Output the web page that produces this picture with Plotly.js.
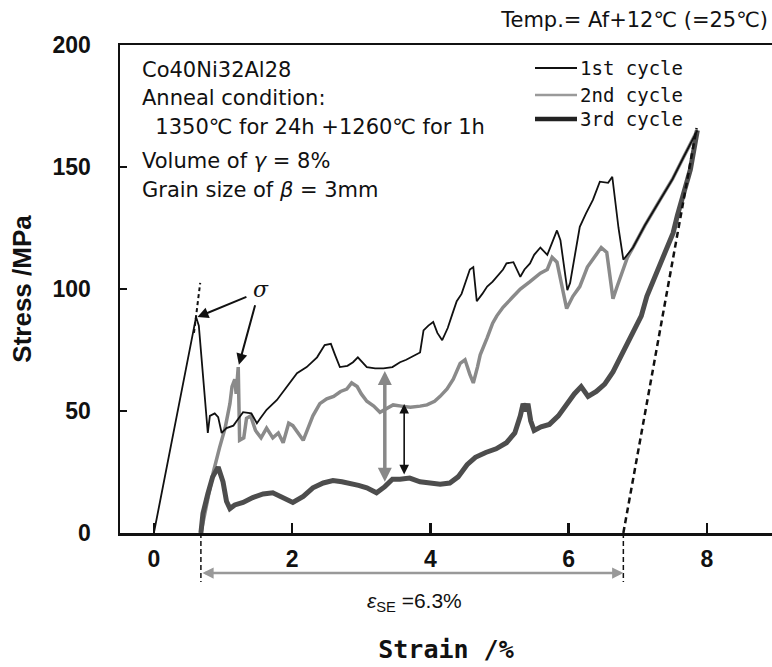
<!DOCTYPE html>
<html>
<head>
<meta charset="utf-8">
<script src="https://cdn.plot.ly/plotly-3.0.1.min.js"></script>
<style>html,body{margin:0;padding:0;background:#fff;}#chart{width:772px;height:667px;}</style>
</head>
<body>
<div id="chart"></div>
<script>
// ---- data (strain in %, stress in MPa) ----
const seriesNames = ["1st cycle", "2nd cycle", "3rd cycle"];

const strain1 = [0, 0.61, 0.65, 0.72, 0.78, 0.81, 0.88, 0.93, 0.98, 1.05, 1.15, 1.2, 1.29, 1.41, 1.49, 1.54, 1.63, 1.78, 1.92, 2.07, 2.21, 2.36, 2.47, 2.56, 2.62, 2.69, 2.8, 2.88, 2.95, 3.0, 3.08, 3.2, 3.32, 3.45, 3.56, 3.65, 3.75, 3.85, 3.9, 3.97, 4.04, 4.1, 4.17, 4.25, 4.32, 4.38, 4.45, 4.52, 4.57, 4.62, 4.65, 4.67, 4.75, 4.82, 4.9, 4.96, 5.05, 5.1, 5.2, 5.3, 5.36, 5.44, 5.5, 5.59, 5.69, 5.76, 5.83, 5.88, 5.93, 5.98, 6.02, 6.08, 6.16, 6.25, 6.35, 6.45, 6.57, 6.63, 6.67, 6.72, 6.79, 6.85, 6.93, 7.1, 7.32, 7.5, 7.66, 7.86];
const stress1 = [0, 88.5, 85, 60, 41, 48, 49, 47.5, 41, 43, 44, 46, 49.5, 49, 45, 47, 50.5, 54.5, 60, 65.5, 68, 72, 77, 77.5, 73, 68, 68.5, 70, 72, 70.5, 68, 67.5, 67.5, 68, 70, 71, 72.5, 74, 83, 85, 86.5, 82, 79, 84, 90, 95, 98, 104, 108, 109, 100, 95, 98, 101, 103, 105, 108, 110.5, 111, 105, 108, 110.5, 114, 117, 114, 119, 124, 120, 110, 99.5, 102.5, 112, 125.5, 131, 136.5, 144, 143.5, 146, 136.5, 125, 112, 114, 117, 126, 136.5, 145, 154, 165];

const strain2 = [0.68, 0.77, 0.86, 0.95, 1.03, 1.1, 1.13, 1.17, 1.19, 1.22, 1.24, 1.3, 1.34, 1.4, 1.47, 1.55, 1.63, 1.72, 1.8, 1.87, 1.95, 2.01, 2.08, 2.16, 2.23, 2.3, 2.4, 2.5, 2.6, 2.7, 2.79, 2.86, 2.94, 3.0, 3.08, 3.18, 3.27, 3.37, 3.46, 3.58, 3.71, 3.85, 3.95, 4.06, 4.14, 4.24, 4.33, 4.43, 4.5, 4.57, 4.62, 4.68, 4.72, 4.82, 4.9, 4.96, 5.05, 5.2, 5.3, 5.44, 5.59, 5.69, 5.76, 5.83, 5.9, 5.97, 6.06, 6.16, 6.27, 6.37, 6.47, 6.55, 6.6, 6.64, 6.7, 6.76, 6.85, 6.93, 7.1, 7.32, 7.5, 7.66, 7.86];
const stress2 = [0, 12, 25, 35, 43, 53, 60, 63, 57, 68, 38, 39, 47, 48, 42, 39, 43, 39, 41, 37, 45, 44, 41, 38, 43, 48, 53, 55, 56, 58, 59, 61.5, 60, 57, 54, 52, 49.5, 51, 52.5, 52, 51.5, 52, 52.5, 54, 56, 59, 63, 69.5, 71, 65, 61.5, 68, 73, 80, 86, 89, 92.5, 97, 100, 103, 106.5, 108, 113, 111, 102, 92, 97, 101, 109, 113, 117, 115, 104, 96, 101, 106, 113, 117, 126, 136.5, 145, 154, 165];

const strain3 = [0.68, 0.71, 0.78, 0.85, 0.93, 1.0, 1.05, 1.1, 1.17, 1.29, 1.43, 1.58, 1.72, 1.87, 2.01, 2.16, 2.3, 2.45, 2.59, 2.72, 2.84, 2.96, 3.08, 3.22, 3.34, 3.45, 3.56, 3.7, 3.85, 4.0, 4.14, 4.28, 4.4, 4.53, 4.65, 4.8, 4.95, 5.1, 5.22, 5.3, 5.34, 5.38, 5.41, 5.45, 5.5, 5.6, 5.72, 5.85, 5.95, 6.08, 6.18, 6.28, 6.4, 6.52, 6.64, 6.75, 6.85, 6.95, 7.05, 7.13, 7.22, 7.32, 7.42, 7.51, 7.57, 7.66, 7.76, 7.86];
const stress3 = [0, 8, 16, 23, 27, 21, 13, 10, 11.5, 12.5, 14.5, 16, 16.5, 14.5, 12.5, 15, 18.5, 20.5, 21.5, 21, 20.5, 19.5, 18.5, 16.5, 19, 22, 22, 22.5, 21, 20.5, 20, 20.5, 23, 28, 31, 33, 34.5, 37, 41, 48, 53, 50, 53, 46, 42, 43.5, 44.5, 48, 52, 57, 60, 56, 58, 61, 66, 72, 78, 84, 89, 97, 103, 110, 116, 123, 130, 139, 149, 165];

// construction lines (dashed)
const elasticStrain = [0.58, 0.67];
const elasticStress = [82, 102.5];
const unloadStrain = [6.79, 7.85];
const unloadStress = [0, 166];

// superelastic strain limits and value
const seLimits = [0.68, 6.79];
const seLabel = "<i>ε</i><sub>SE</sub> =6.3%";

// stress-difference arrows: [strain, top stress, bottom stress]
const gapGray = [3.34, 67, 21];
const gapBlack = [3.62, 53.5, 24];

// sigma pointer arrows: [tail strain, tail stress, head strain, head stress]
const sigmaArrow1 = [1.36, 97, 0.63, 88.5];
const sigmaArrow2 = [1.47, 94, 1.23, 69];

const xTicks = [0, 2, 4, 6, 8];
const yTicks = [0, 50, 100, 150, 200];

const titleText = "Temp.= Af+12℃ (=25℃)";
const infoLines = ["Co40Ni32Al28", "Anneal condition:", "\u00a0\u00a01350℃ for 24h +1260℃ for 1h", "Volume of <i>γ</i> = 8%", "Grain size of <i>β</i> = 3mm"];

// ---- traces ----
const c1 = "#111", c2 = "#8a8a8a", c3 = "#4d4d4d";
const traces = [
  {x: strain2, y: stress2, mode: "lines", line: {color: c2, width: 3.5}, name: seriesNames[1], showlegend: false},
  {x: strain3, y: stress3, mode: "lines", line: {color: c3, width: 5}, name: seriesNames[2], showlegend: false},
  {x: strain1, y: stress1, mode: "lines", line: {color: c1, width: 1.8}, name: seriesNames[0], showlegend: false},
  {x: elasticStrain, y: elasticStress, mode: "lines", line: {color: "#111", width: 2, dash: "4px,3px"}, showlegend: false, hoverinfo: "skip"},
  {x: unloadStrain, y: unloadStress, mode: "lines", line: {color: "#111", width: 2.5, dash: "6px,4px"}, showlegend: false, hoverinfo: "skip"}
];

// plot geometry helpers (paper coordinates)
const W = 772, H = 667, mL = 120, mR = 0, mT = 45, mB = 134;
const pw = W - mL - mR, ph = H - mT - mB;
const px = v => (v - mL) / pw;
const py = v => (H - mB - v) / ph;

const annotations = [];
const shapes = [];

// info block
const infoY = [70, 98, 127, 161, 190];
infoLines.forEach((t, i) => {
  annotations.push({xref: "paper", yref: "paper", x: px(140), y: py(infoY[i]), xanchor: "left", yanchor: "middle",
    text: t, showarrow: false, font: {family: "DejaVu Sans", size: 21, color: "#111"}});
});

// custom legend
const legY = [68, 95, 119];
const legStyles = [{color: c1, width: 1.8}, {color: "#9a9a9a", width: 2.5}, {color: "#222", width: 4.5}];
seriesNames.forEach((n, i) => {
  shapes.push({type: "line", xref: "paper", yref: "paper", x0: px(535), x1: px(577), y0: py(legY[i]), y1: py(legY[i]), line: legStyles[i]});
  annotations.push({xref: "paper", yref: "paper", x: px(578), y: py(legY[i]), xanchor: "left", yanchor: "middle",
    text: n, showarrow: false, font: {family: "DejaVu Sans Mono", size: 19, color: "#111"}});
});

// sigma label and pointers
annotations.push({x: 1.55, y: 100, xref: "x", yref: "y", text: "σ", showarrow: false, font: {family: "DejaVu Serif", size: 22, style: "italic", color: "#111"}});
[sigmaArrow1, sigmaArrow2].forEach(a => {
  annotations.push({x: a[2], y: a[3], ax: a[0], ay: a[1], xref: "x", yref: "y", axref: "x", ayref: "y", text: "",
    showarrow: true, arrowhead: 2, arrowsize: 1.1, arrowwidth: 2, arrowcolor: "#111"});
});

// stress gap double arrows
annotations.push({x: gapGray[0], y: gapGray[2], ax: gapGray[0], ay: gapGray[1], xref: "x", yref: "y", axref: "x", ayref: "y", text: "",
  showarrow: true, arrowhead: 2, startarrowhead: 2, arrowside: "end+start", arrowsize: 0.8, arrowwidth: 3.5, arrowcolor: "#888"});
annotations.push({x: gapBlack[0], y: gapBlack[2], ax: gapBlack[0], ay: gapBlack[1], xref: "x", yref: "y", axref: "x", ayref: "y", text: "",
  showarrow: true, arrowhead: 2, startarrowhead: 2, arrowside: "end+start", arrowsize: 1.2, arrowwidth: 1.6, arrowcolor: "#111"});

// superelastic strain markers below the axis
seLimits.forEach(v => {
  shapes.push({type: "line", xref: "x", yref: "paper", x0: v, x1: v, y0: 0, y1: py(582), line: {color: "#111", width: 1.5, dash: "5px,3px"}});
});
annotations.push({x: seLimits[1], y: py(573), ax: seLimits[0], ay: 0, xref: "x", yref: "paper", axref: "x", ayref: "pixel", text: "",
  showarrow: true, arrowhead: 2, startarrowhead: 2, arrowside: "end+start", arrowsize: 0.9, arrowwidth: 2.5, arrowcolor: "#999"});
annotations.push({xref: "paper", yref: "paper", x: px(414), y: py(602), xanchor: "center", yanchor: "middle", text: seLabel,
  showarrow: false, font: {family: "Liberation Sans", size: 21, color: "#111"}});

const layout = {
  width: W, height: H,
  margin: {l: mL, r: mR, t: mT, b: mB, pad: 0},
  paper_bgcolor: "#fff", plot_bgcolor: "#fff",
  showlegend: false,
  title: {text: titleText, xref: "container", yref: "container", x: 768 / W, y: 1 - 20 / H, xanchor: "right", yanchor: "middle",
    font: {family: "DejaVu Sans", size: 21, color: "#111"}},
  xaxis: {
    range: [-0.49, 8.94], tickvals: xTicks, ticktext: xTicks.map(String),
    ticks: "inside", ticklen: 10, tickwidth: 2.5, tickcolor: "#111",
    showline: true, linewidth: 2.5, linecolor: "#111", mirror: true,
    showgrid: false, zeroline: false,
    tickfont: {family: "Liberation Sans", size: 23, weight: "bold", color: "#111"},
    ticklabelstandoff: 4,
    title: {text: "Strain /%", standoff: 70, font: {family: "DejaVu Sans Mono", size: 25, weight: "bold", color: "#111"}}
  },
  yaxis: {
    range: [0, 200], tickvals: yTicks, ticktext: yTicks.map(String),
    ticks: "inside", ticklen: 7, tickwidth: 2.5, tickcolor: "#111",
    showline: true, linewidth: 2.5, linecolor: "#111", mirror: false,
    showgrid: false, zeroline: false,
    tickfont: {family: "Liberation Sans", size: 23, weight: "bold", color: "#111"},
    ticklabelstandoff: 22,
    title: {text: "Stress /MPa", standoff: 14, font: {family: "Liberation Sans", size: 26, weight: "bold", color: "#111"}}
  },
  annotations: annotations,
  shapes: shapes
};

Plotly.newPlot("chart", traces, layout, {displayModeBar: false, staticPlot: true});
</script>
</body>
</html>
